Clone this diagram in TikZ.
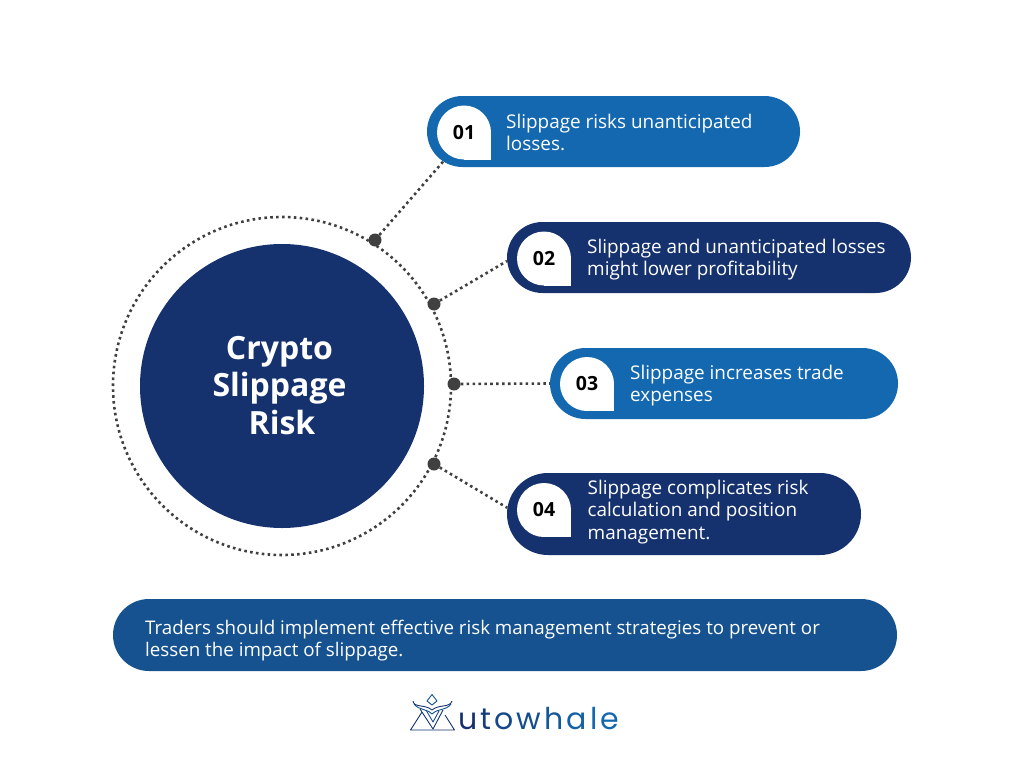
\documentclass[tikz,border=0pt]{standalone}
\usepackage{fontspec}
\usepackage{xcolor}
\usepackage{tikz}
\usetikzlibrary{shapes.misc}
\setmainfont{Open Sans}
\newfontfamily\logofont{Poppins}

\definecolor{pillblue}{HTML}{1368B0}
\definecolor{pillnavy}{HTML}{15326E}
\definecolor{notebar}{HTML}{165290}
\definecolor{dotgrey}{HTML}{404040}

\tikzset{
    pill/.style={rounded rectangle, fill=#1, minimum height=71pt, inner sep=0pt},
    pilltext/.style={anchor=west, align=left, text=white, inner sep=0pt, font=\fontsize{18.9}{22.5}\selectfont},
    tag/.style={circle, fill=white, minimum size=54pt, inner sep=0pt, font=\fontsize{19.5}{20}\selectfont\bfseries},
    joint/.style={circle, fill=dotgrey, minimum size=13pt, inner sep=0pt},
    dotline/.style={line width=2.6pt, dotgrey, dash pattern=on 2.6pt off 3.3pt},
    logoline/.style={line width=0.9pt, line join=round}
}

\begin{document}
\begin{tikzpicture}[x=1pt, y=-1pt]
    \useasboundingbox (0,0) rectangle (1024,768);

    % Central circle with dotted ring
    \node[circle, fill=pillnavy, minimum size=284pt, inner sep=0pt] (hub) at (282,386) {};
    \node[align=center, text=white, inner sep=0pt, font=\fontsize{32}{37.5}\selectfont\bfseries] (hubtext) at (279.5,385.5)
        {Crypto\\Slippage\\\hspace*{5pt}Risk};
    \draw[dotline] (hub) circle (169);

    % Joints on the ring
    \foreach \name/\x/\y in {dot01/375/240, dot02/434/304, dot03/454/384, dot04/434/464} {
        \node[joint] (\name) at (\x,\y) {};
    }

    % Pills
    \node[pill=pillblue, minimum width=373pt] (pill01) at (613.5,131.5) {};
    \node[pill=pillnavy, minimum width=404pt] (pill02) at (709,257.5) {};
    \node[pill=pillblue, minimum width=348pt] (pill03) at (724,383.5) {};
    \node[pill=pillnavy, minimum width=354pt, minimum height=82pt] (pill04) at (684,514) {};
    \node[pill=notebar, minimum width=784pt, minimum height=72pt] (note) at (505,635) {};

    % Number tags with a square corner
    \foreach \num/\x/\y in {01/464/132.5, 02/544/258.5, 03/587/384, 04/544/510} {
        \fill[white] (\x,\y) rectangle (\x+27,\y+27);
        \node[tag] (tag\num) at (\x,\y) {\num};
    }

    % Texts
    \node[pilltext] (text01) at (506,132.5) {Slippage risks unanticipated\\losses.};
    \node[pilltext] (text02) at (587,259.5) {Slippage and unanticipated losses\\might lower profitability};
    \node[pilltext] (text03) at (630,385.5) {Slippage increases trade\\expenses};
    \node[pilltext] (text04) at (587.5,512) {Slippage complicates risk\\calculation and position\\management.};
    \node[pilltext, font=\fontsize{18.75}{22.5}\selectfont] (notetext) at (145,640.5) {Traders should implement effective risk management strategies to prevent or\\lessen the impact of slippage.};

    % Connectors
    \draw[dotline] (dot01) -- (pill01.190);
    \draw[dotline] (dot02) -- (pill02.181);
    \draw[dotline] (dot03) -- (pill03.west);
    \draw[dotline] (dot04) -- (pill04.178);

    % Logo
    \draw[logoline, pillnavy] (422,712) -- (410.5,730) -- (454.5,730) -- (445,715);
    \draw[logoline, notebar] (432,694.5) -- (437,701) -- (432,705) -- (427,701) -- cycle;
    \draw[logoline, pillnavy] (413,701) .. controls (414,708) and (425,704) .. (432,710)
        .. controls (439,704) and (450,708) .. (452,701);
    \draw[logoline, notebar] (414,704) .. controls (420,711) and (426,708) .. (432,714)
        .. controls (438,708) and (446,711) .. (451,704);
    \draw[logoline, pillnavy] (420,709) -- (433,729) -- (443,710);
    \draw[logoline, notebar] (426,710) -- (433,722) -- (439,711);
    \node[anchor=west, inner sep=0pt, font=\logofont\fontsize{30}{30}\selectfont] (logo) at (458,719)
        {\textcolor{pillnavy}{u}\kern3.1pt\textcolor{pillnavy!80!pillblue}{t}\kern3.1pt\textcolor{pillnavy!60!pillblue}{o}\kern3.1pt\textcolor{pillnavy!50!pillblue}{w}\kern3.1pt\textcolor{pillnavy!30!pillblue}{h}\kern3.1pt\textcolor{pillnavy!15!pillblue}{a}\kern3.1pt\textcolor{pillblue}{l}\kern3.1pt\textcolor{pillblue}{e}};
\end{tikzpicture}
\end{document}
